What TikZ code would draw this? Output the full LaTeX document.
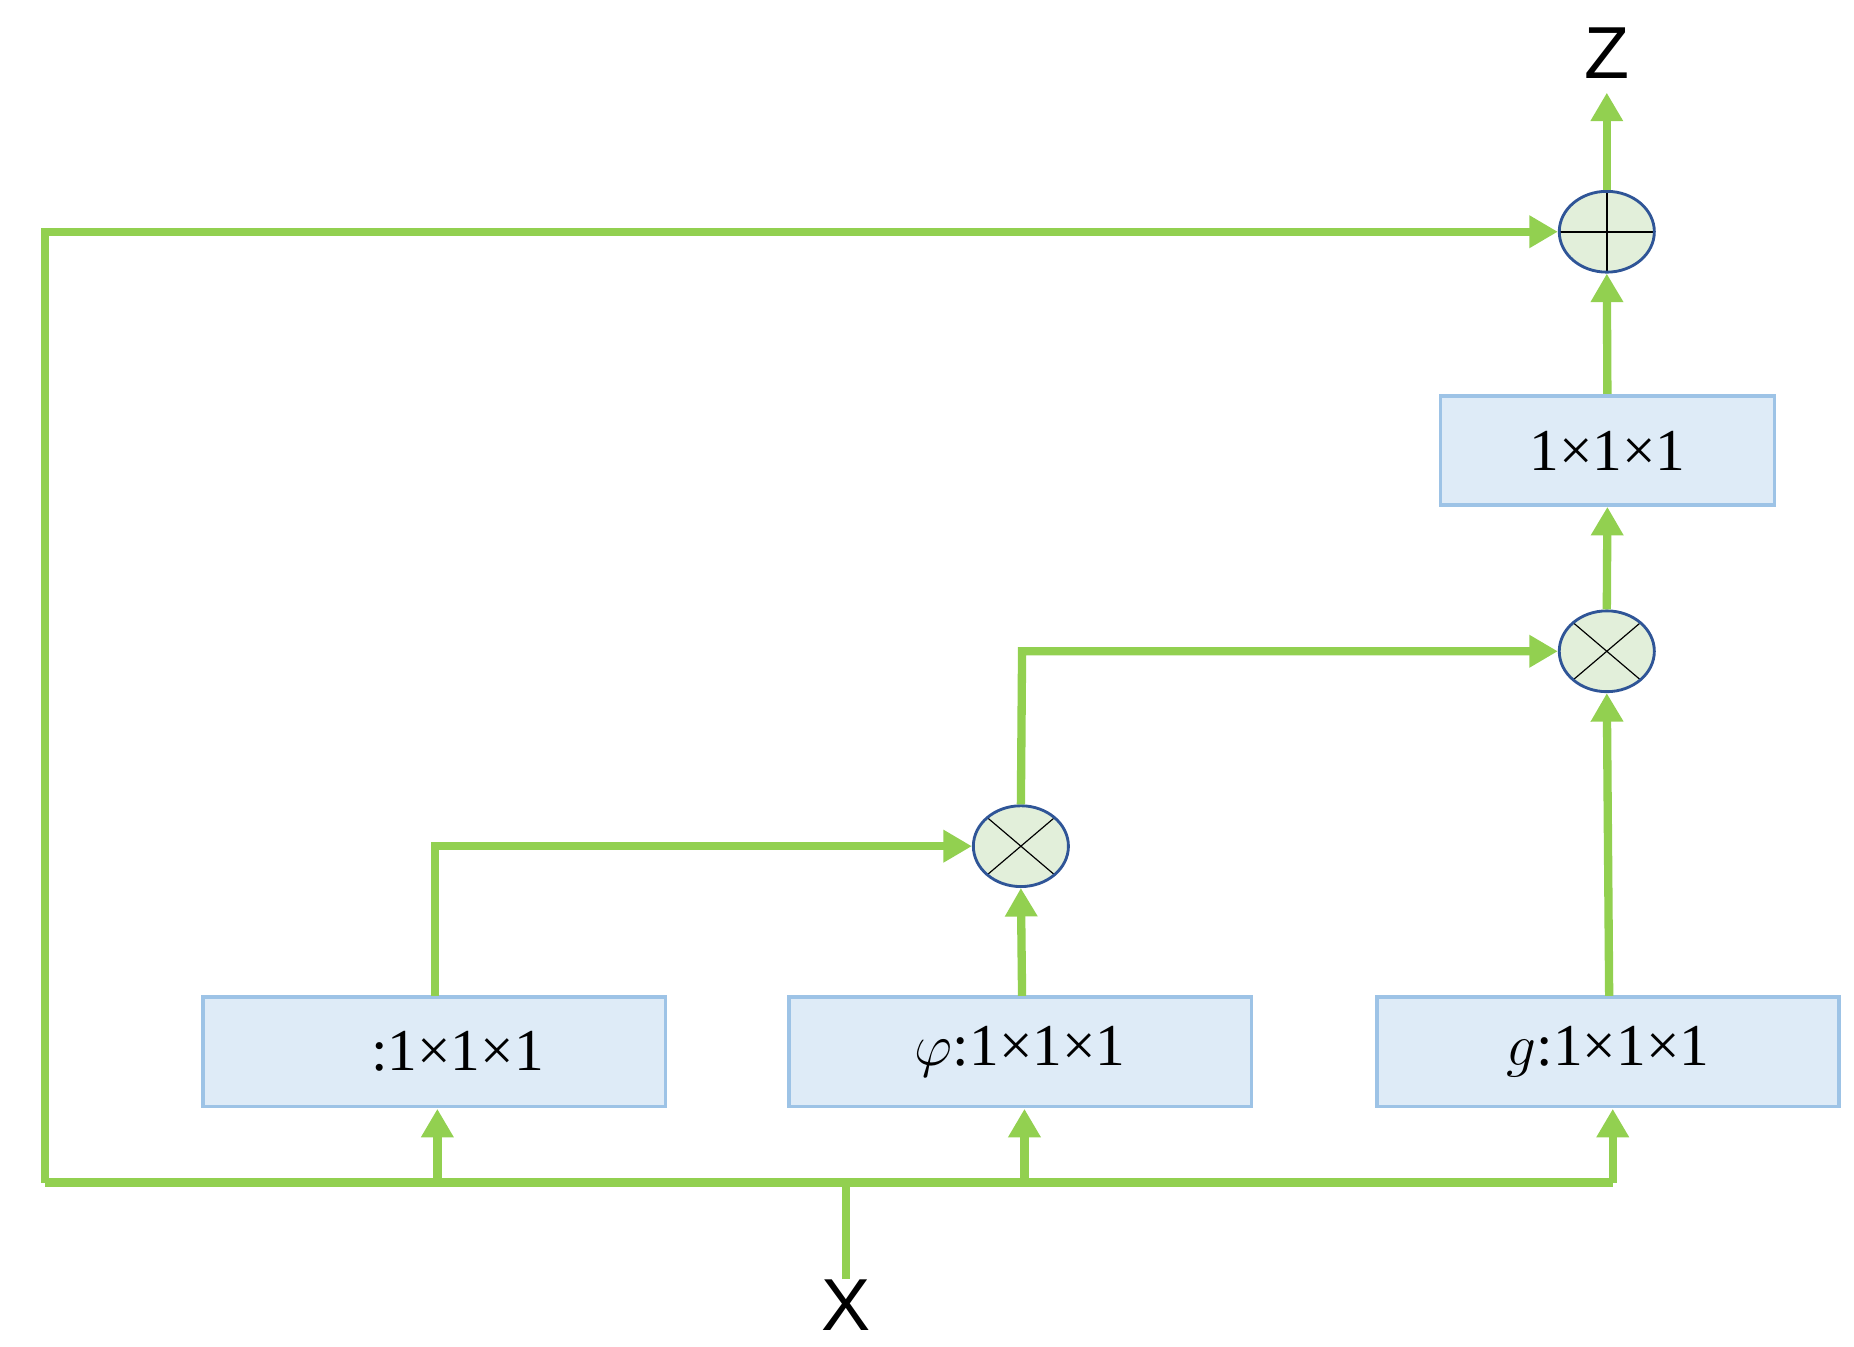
\documentclass[tikz,border=0pt]{standalone}
\usepackage{fontspec}
\setmainfont{Liberation Serif}
\newfontfamily\sansf{Liberation Sans}
\usetikzlibrary{arrows.meta,shapes.geometric}
\definecolor{gline}{HTML}{92D050}
\definecolor{bfill}{HTML}{DEEBF7}
\definecolor{bdraw}{HTML}{9DC3E6}
\definecolor{cfill}{HTML}{E2EFDA}
\definecolor{cdraw}{HTML}{2F5597}
\tikzset{
 conv/.style={draw=bdraw,fill=bfill,line width=1.5pt,minimum width=194.5pt,minimum height=46pt,inner sep=0pt,font=\fontsize{25}{28}\selectfont},
 opnode/.style={draw=cdraw,fill=cfill,line width=1.2pt,ellipse,minimum width=40pt,minimum height=34pt,inner sep=0pt},
 times/.style={opnode,path picture={\draw[black,line width=0.5pt] (path picture bounding box.north west) -- (path picture bounding box.south east) (path picture bounding box.north east) -- (path picture bounding box.south west);}},
 plus/.style={opnode,path picture={\draw[black,line width=0.8pt] (path picture bounding box.north) -- (path picture bounding box.south) (path picture bounding box.west) -- (path picture bounding box.east);}},
 flow/.style={gline,line width=3.5pt,-{Triangle[length=12pt,width=13pt]}},
 wire/.style={gline,line width=3.5pt},
 lab/.style={font=\sansf\fontsize{31}{34}\selectfont,inner sep=0pt}
}
\begin{document}
\begin{tikzpicture}[x=0.5pt,y=-0.5pt]
\useasboundingbox (0,0) rectangle (1560,1133);
\node[conv] (th) at (365.5,885) {$\mathit{\Theta}$:1×1×1};
\node[conv] (ph) at (858.5,885) {$\varphi$:1×1×1};
\node[conv] (g) at (1353,885) {$g$:1×1×1};
\node[conv,minimum width=140.5pt] (w) at (1352.5,379) {1×1×1};
\node[times] (m1) at (859,712) {};
\node[times] (m2) at (1352,548) {};
\node[plus] (s) at (1352,195) {};
\node[lab] (z) at (1352,45) {Z};
\node[lab] (x) at (712,1098) {X};
\coordinate (xj) at (712,995);
\coordinate (lc) at (38,995);
\coordinate (rc) at (1357,995);
\coordinate (zt) at (1352,78);
% bottom distribution
\draw[wire] (x.north) -- (xj);
\draw[wire] (lc) -- (rc);
\draw[flow] (368,995) -- (368,933);
\draw[flow] (862,995) -- (862,933);
\draw[flow] (rc) -- (1357,933);
% skip connection
\draw[flow] (lc) -- (38,195) -- (s.west);
% theta -> m1
\draw[flow] (366,838) -- (366,712) -- (m1.west);
\draw[flow] (860,838) -- (m1.south);
\draw[flow] (m1.north) -- (860,548) -- (m2.west);
\draw[flow] (1354,838) -- (m2.south);
\draw[flow] (m2.north) -- (w.south);
\draw[flow] (w.north) -- (s.south);
\draw[flow] (s.north) -- (zt);
\end{tikzpicture}
\end{document}
